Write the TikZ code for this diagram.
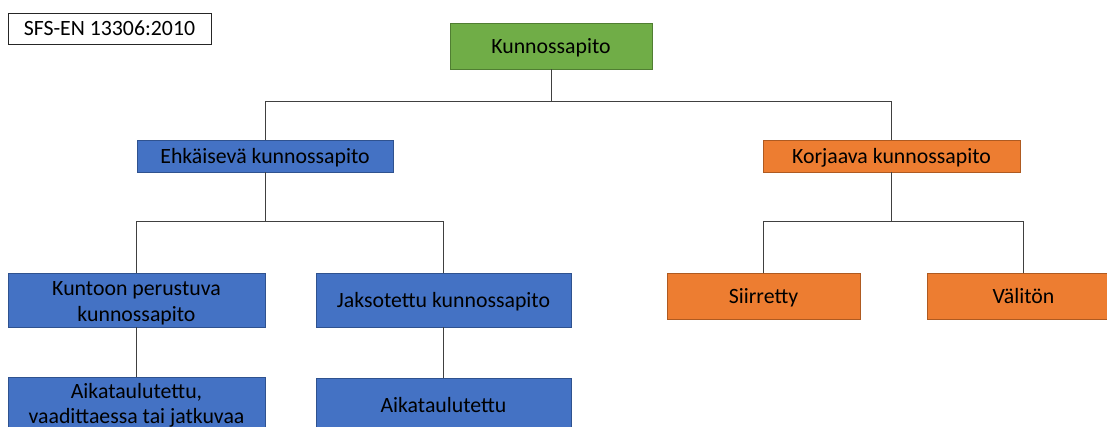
\documentclass[tikz,border=0pt]{standalone}
\usepackage{fontspec}
\setmainfont{Carlito}
\definecolor{gfill}{HTML}{70AD47}
\definecolor{gline}{HTML}{507E32}
\definecolor{bfill}{HTML}{4472C4}
\definecolor{bline}{HTML}{2F528F}
\definecolor{ofill}{HTML}{ED7D31}
\definecolor{oline}{HTML}{AE5A21}
\definecolor{conn}{HTML}{404040}
\tikzset{
  box/.style={draw, line width=0.9pt, inner sep=0pt, align=center, text=black,
    font=\fontsize{21.8}{26}\selectfont, text height=15pt, text depth=0pt},
  greenbox/.style={box, fill=gfill, draw=gline},
  bluebox/.style={box, fill=bfill, draw=bline},
  orangebox/.style={box, fill=ofill, draw=oline},
  conline/.style={draw=conn, line width=1pt},
}
\begin{document}
\begin{tikzpicture}[x=1pt,y=-1pt]
\useasboundingbox (0,0) rectangle (1107,427);
\clip (0,0) rectangle (1107,427);
% standard label
\node[box, fill=white, draw=black!85, minimum width=203pt, minimum height=31pt] (std) at (109.5,28.5) {SFS-EN 13306:2010};
% root
\node[greenbox, minimum width=202pt, minimum height=46pt] (root) at (551,46) {Kunnossapito};
% level 2
\node[bluebox, minimum width=256pt, minimum height=32pt] (ehk) at (265,156) {Ehkäisevä kunnossapito};
\node[orangebox, minimum width=257pt, minimum height=32pt] (kor) at (891.5,156) {Korjaava kunnossapito};
% level 3
\node[bluebox, minimum width=257pt, minimum height=54pt, text height=42pt] (kun) at (136.5,300) {\parbox[b]{250pt}{\centering Kuntoon perustuva\\kunnossapito}};
\node[bluebox, minimum width=255pt, minimum height=54pt, text height=16pt] (jak) at (443.5,300) {Jaksotettu kunnossapito};
\node[orangebox, minimum width=193pt, minimum height=46pt, text height=16pt] (sii) at (763.5,296) {Siirretty};
\node[orangebox, minimum width=193pt, minimum height=46pt, text height=16pt] (val) at (1023.5,296) {Välitön};
% level 4
\node[bluebox, minimum width=257pt, minimum height=54pt, text height=38pt, font=\fontsize{21.8}{25}\selectfont] (aik1) at (136.5,404) {\parbox[b]{250pt}{\centering Aikataulutettu,\\vaadittaessa tai jatkuvaa}};
\node[bluebox, minimum width=255pt, minimum height=54pt, text height=14pt] (aik2) at (443.5,405) {Aikataulutettu};
% junctions
\coordinate (j1) at (551,102);
\coordinate (j2) at (265,222);
\coordinate (j3) at (891.5,222);
% connectors
\draw[conline] (root.south) -- (j1);
\draw[conline] (j1) -| (ehk.north);
\draw[conline] (j1) -| (kor.north);
\draw[conline] (ehk.south) -- (j2);
\draw[conline] (j2) -| (kun.north);
\draw[conline] (j2) -| (jak.north);
\draw[conline] (kor.south) -- (j3);
\draw[conline] (j3) -| (sii.north);
\draw[conline] (j3) -| (val.north);
\draw[conline] (kun.south) -- (aik1.north);
\draw[conline] (jak.south) -- (aik2.north);
\end{tikzpicture}
\end{document}
